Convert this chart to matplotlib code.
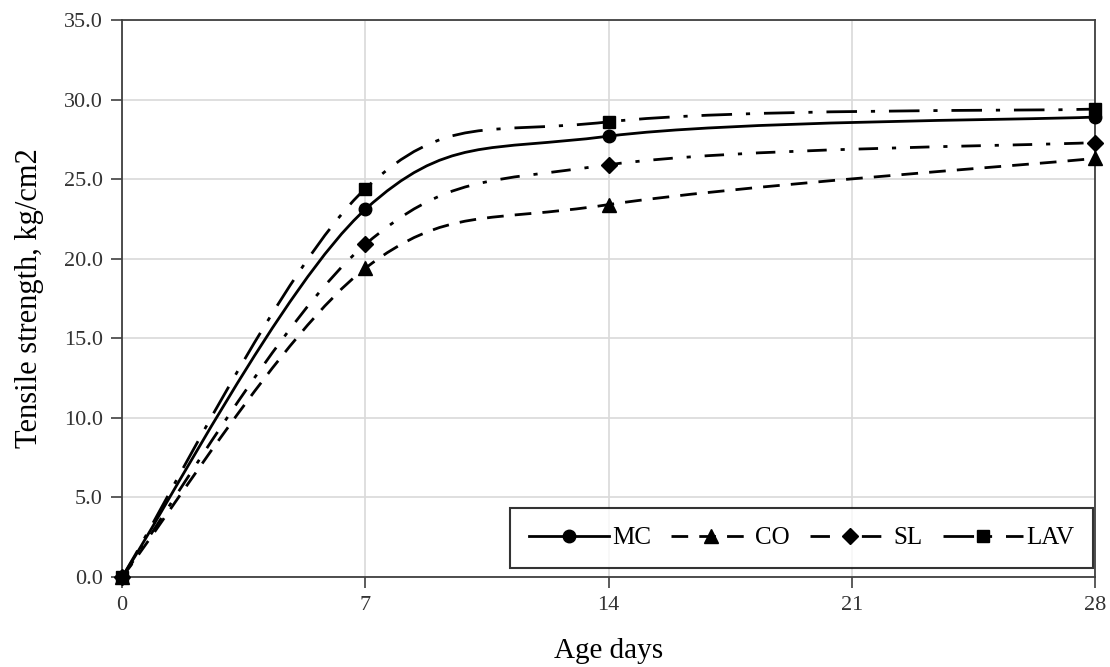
import matplotlib
matplotlib.use("Agg")
import matplotlib.pyplot as plt
import numpy as np
from matplotlib.path import Path
from matplotlib.patches import PathPatch
from matplotlib.lines import Line2D

# data
days = [0, 7, 14, 28]
mc = [0.0, 23.1, 27.7, 28.9]
co = [0.0, 19.4, 23.4, 26.3]
sl = [0.0, 20.9, 25.9, 27.3]
lav = [0.0, 24.4, 28.6, 29.4]

series = [
    ("MC", mc, "-", "o", 9),
    ("CO", co, (0, (6, 4)), "^", 10),
    ("SL", sl, (0, (7, 5, 1.5, 5)), "D", 8),
    ("LAV", lav, (0, (11, 5, 1.5, 5)), "s", 9),
]


def smooth_path(xs, ys):
    # Excel-style smoothed line: cubic bezier through the points
    pts = np.column_stack([xs, ys]).astype(float)
    n = len(pts)
    verts = [pts[0]]
    codes = [Path.MOVETO]
    for i in range(n - 1):
        p0 = pts[i - 1] if i > 0 else pts[i]
        p1 = pts[i]
        p2 = pts[i + 1]
        p3 = pts[i + 2] if i + 2 < n else pts[i + 1]
        c1 = p1 + (p2 - p0) / 6.0
        c2 = p2 - (p3 - p1) / 6.0
        verts += [c1, c2, p2]
        codes += [Path.CURVE4] * 3
    return Path(verts, codes)


fig = plt.figure(figsize=(11.1, 6.67), dpi=100)
ax = fig.add_axes([0.110, 0.135, 0.8765, 0.835])

serif = "Liberation Serif"

handles = []
for name, vals, ls, mk, ms in series:
    patch = PathPatch(smooth_path(days, vals), facecolor="none", edgecolor="black",
                      linewidth=2.0, linestyle=ls, zorder=3)
    ax.add_patch(patch)
    ax.plot(days, vals, linestyle="none", marker=mk, markersize=ms, color="black",
            zorder=4, clip_on=False)
    handles.append(Line2D([], [], color="black", linestyle=ls, linewidth=2.0,
                          marker=mk, markersize=ms))

ax.set_xlim(0, 28)
ax.set_ylim(0, 35)
ax.set_xticks([0, 7, 14, 21, 28])
ax.set_yticks(np.arange(0, 36, 5))
ax.set_yticklabels([f"{v:.1f}" for v in np.arange(0, 36, 5)])
ax.grid(True, color="#d9d9d9", linewidth=1.2, zorder=0)
ax.set_axisbelow(True)

for s in ax.spines.values():
    s.set_color("#404040")
    s.set_linewidth(1.3)

ax.tick_params(direction="out", length=8, width=1.2, color="#404040",
               labelsize=16, labelcolor="#333333", pad=6)
for lab in ax.get_xticklabels() + ax.get_yticklabels():
    lab.set_fontfamily(serif)

ax.set_xlabel("Age days", fontsize=21, family=serif, labelpad=16)
ax.set_ylabel("Tensile strength, kg/cm2", fontsize=22, family=serif, labelpad=14)

leg = ax.legend(handles, [s[0] for s in series], loc="lower right", ncol=4,
                prop={"family": serif, "size": 18}, frameon=True, fancybox=False,
                edgecolor="black", handlelength=3.2, handletextpad=0.15,
                columnspacing=0.8, borderpad=0.75, borderaxespad=0,
                bbox_to_anchor=(0.998, 0.016))
leg.get_frame().set_linewidth(1.5)

fig.savefig("out.png", dpi=100, facecolor="white")
